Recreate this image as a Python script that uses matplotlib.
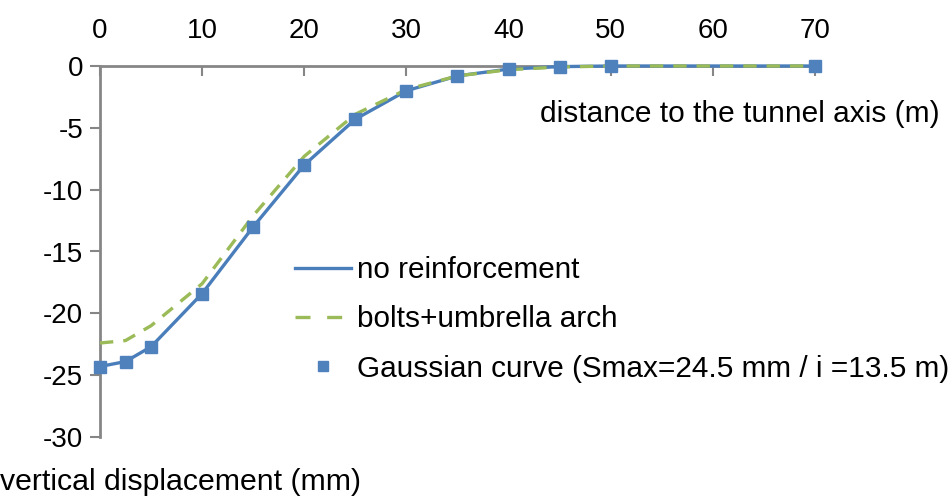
import matplotlib
matplotlib.use("Agg")
import matplotlib.pyplot as plt
from matplotlib.lines import Line2D

plt.rcParams['font.family'] = ['Liberation Sans', 'DejaVu Sans']

distance = [0, 2.5, 5, 10, 15, 20, 25, 30, 35, 40, 45, 50, 70]
no_reinforcement = [-24.3, -23.9, -22.7, -18.4, -13.0, -8.0, -4.3, -2.0, -0.8, -0.25, -0.05, 0, 0]
bolts_umbrella = [-22.4, -22.2, -21.0, -17.6, -12.1, -7.3, -3.9, -1.9, -0.8, -0.3, -0.08, 0, 0]
gaussian = [-24.3, -23.9, -22.7, -18.4, -13.0, -8.0, -4.3, -2.0, -0.8, -0.25, -0.05, 0, 0]

x_ticks = [0, 10, 20, 30, 40, 50, 60, 70]
y_ticks = [0, -5, -10, -15, -20, -25, -30]

W, H = 953, 498
fig = plt.figure(figsize=(W / 100, H / 100), dpi=100)
ax = fig.add_axes([100 / W, 1 - 437 / H, (815 - 100) / W, (437 - 66) / H])

blue = '#4A7EBB'
green = '#9BBB59'
axis_gray = '#868686'

l1, = ax.plot(distance, no_reinforcement, color=blue, lw=2.4, zorder=3,
              label='no reinforcement', clip_on=False)
l2, = ax.plot(distance, bolts_umbrella, color=green, lw=2.4, ls=(0, (4, 3)),
              zorder=4, label='bolts+umbrella arch', clip_on=False)
l3, = ax.plot(distance, gaussian, ls='none', marker='s', ms=8.5, color='#4F81BD',
              mec='#4F81BD', zorder=5, clip_on=False,
              label='Gaussian curve (Smax=24.5 mm / i =13.5 m)')

ax.set_xlim(0, 70)
ax.set_ylim(-30, 0)
ax.set_xticks(x_ticks)
ax.set_yticks(y_ticks)
ax.set_xticklabels([str(v) for v in x_ticks])
ax.set_yticklabels([str(v) for v in y_ticks])

ax.xaxis.tick_top()
ax.tick_params(axis='x', direction='in', length=7, width=1.5, color=axis_gray,
               labelsize=20, pad=16)
ax.tick_params(axis='y', direction='out', length=7, width=1.5, color=axis_gray,
               labelsize=20, pad=5)

for s in ['right', 'bottom']:
    ax.spines[s].set_visible(False)
for s in ['left', 'top']:
    ax.spines[s].set_color(axis_gray)
    ax.spines[s].set_linewidth(2)
ax.spines['top'].set_zorder(2)

fig.text(940 / W, 1 - 114 / H, 'distance to the tunnel axis (m)', ha='right',
         va='center', fontsize=21.5)
fig.text(0 / W, 1 - 482 / H, 'vertical displacement (mm)', ha='left',
         va='center', fontsize=21.8)

h2 = Line2D([], [], color=green, lw=2.4, ls=(0, (4.5, 5)))
h3 = Line2D([], [], ls='none', marker='s', ms=6.5, color='#4F81BD')
leg = fig.legend([l1, h2, h3], [l1.get_label(), l2.get_label(), l3.get_label()],
                 loc='upper left', bbox_to_anchor=(295 / W, 1 - 256 / H),
                 frameon=False, fontsize=21.4, handlelength=1.88, handletextpad=0.2,
                 labelspacing=0.72, borderpad=0, borderaxespad=0)

fig.savefig('out.png', dpi=100)
